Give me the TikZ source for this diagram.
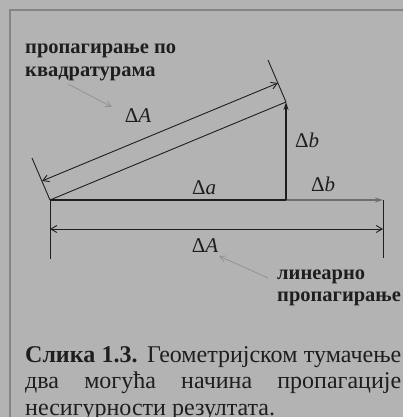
\documentclass[tikz,border=0pt]{standalone}
\usepackage{fontspec}
\setmainfont{Liberation Serif}
\usetikzlibrary{arrows.meta,calc}
\definecolor{bg}{HTML}{B3B3B3}
\definecolor{frame}{HTML}{858585}
\definecolor{ink}{HTML}{1E1E1E}
\definecolor{pale}{HTML}{8F8F8F}
\definecolor{mid}{HTML}{6E6E6E}
\tikzset{
  lbl/.style={text=ink,font=\fontsize{21}{23}\selectfont,inner sep=0pt,anchor=base},
  boldlbl/.style={text=ink,font=\bfseries\fontsize{20.5}{23}\selectfont,align=left,inner sep=0pt,anchor=base west},
  thin/.style={draw=ink,line width=0.9pt},
  dimarrow/.style={draw=ink,line width=0.9pt,{Straight Barb[length=6pt,width=7pt]}-{Straight Barb[length=6pt,width=7pt]}},
  pointer/.style={draw=pale,line width=0.7pt,-{Straight Barb[length=6pt,width=6pt]}},
  thick/.style={draw=ink,line width=2pt}
}
\begin{document}
\begin{tikzpicture}[x=1pt,y=-1pt]
\useasboundingbox (0,0) rectangle (403,417);
\fill[bg] (0,0) rectangle (403,417);
\begin{scope}
\clip (0,0) rectangle (403,417);
\draw[frame,line width=1.6pt] (10,420) -- (10,10) -- (410,10);
% points
\coordinate (O) at (50,200);
\coordinate (C) at (286,200);
\coordinate (T) at (286,102);
\coordinate (R) at (383,200);
\coordinate (Oe) at (32,158);
\coordinate (Te) at (268,60);
\coordinate (Od) at (42,181);
\coordinate (Td) at (278,83);
\coordinate (Lb) at (50,259);
\coordinate (Rb) at (383,258);
\coordinate (Ld) at (50,229);
\coordinate (Rd) at (383,229);
% slanted dimension
\draw[thin] (O) -- (Oe);
\draw[thin] (T) -- (Te);
\draw[dimarrow] (Od) -- (Td);
\draw[thin] (O) -- (T);
% triangle legs
\draw[draw=mid,line width=1.3pt,-{Stealth[length=8pt,width=5pt]}] (C) -- (R);
\draw[thick] (O) -- (C);
\draw[thick,-{Stealth[length=8pt,width=5pt]}] (C) -- (T);
% horizontal dimension
\draw[thin] (O) -- (Lb);
\draw[thin] (R) -- (Rb);
\draw[dimarrow] (Ld) -- (Rd);
% labels
\node[lbl] (lA1) at (138,122) {Δ\textit{A}};
\node[lbl] (lb1) at (307,147) {Δ\textit{b}};
\node[lbl] (lb2) at (323,191) {Δ\textit{b}};
\node[lbl] (la) at (204,194) {Δ\textit{a}};
\node[lbl] (lA2) at (205,252) {Δ\textit{A}};
\node[boldlbl] (q) at (25,77) {пропагирање по\\квадратурама};
\node[boldlbl,font=\bfseries\fontsize{20.5}{21.5}\selectfont] (lin) at (277,301) {линеарно\\пропагирање};
\coordinate (p1s) at (68,84);
\coordinate (p1e) at (112,107);
\coordinate (p2s) at (268,278);
\coordinate (p2e) at (219,256);
\draw[pointer] (p1s) -- (p1e);
\draw[pointer] (p2s) -- (p2e);
% caption
\node[anchor=base west,inner sep=0pt,text=ink,font=\fontsize{24}{26.5}\selectfont,align=left] (cap) at (25,415) {%
\makebox[376pt][s]{\textbf{Слика 1.3.} Геометријском тумачење}\\
\makebox[376pt][s]{два могућа начина пропагације}\\
несигурности резултата.};
\end{scope}
\end{tikzpicture}
\end{document}
